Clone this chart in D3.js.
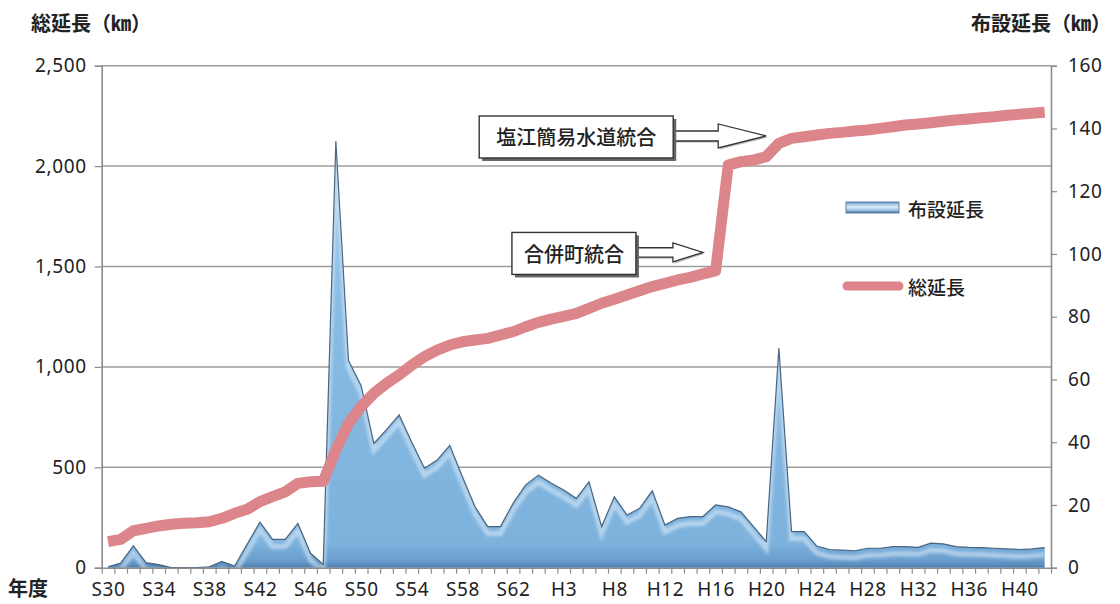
<!DOCTYPE html>
<html>
<head>
<meta charset="utf-8">
<script src="https://cdn.jsdelivr.net/npm/d3@7"></script>
<style>
    body { margin: 0; background: #fff; }
    svg text { font-family: "Noto Sans CJK JP", "Noto Sans", sans-serif; fill: #222; }
</style>
</head>
<body>
<div id="chart"></div>
<script>
// fiscal years, S30 (1955) onward
const years = [1955, 1956, 1957, 1958, 1959, 1960, 1961, 1962, 1963, 1964,
    1965, 1966, 1967, 1968, 1969, 1970, 1971, 1972, 1973, 1974,
    1975, 1976, 1977, 1978, 1979, 1980, 1981, 1982, 1983, 1984,
    1985, 1986, 1987, 1988, 1989, 1990, 1991, 1992, 1993, 1994,
    1995, 1996, 1997, 1998, 1999, 2000, 2001, 2002, 2003, 2004,
    2005, 2006, 2007, 2008, 2009, 2010, 2011, 2012, 2013, 2014,
    2015, 2016, 2017, 2018, 2019, 2020, 2021, 2022, 2023, 2024,
    2025, 2026, 2027, 2028, 2029];

// one label every 4 years, as printed on the original
const tickLabels = ["S30", "S34", "S38", "S42", "S46", "S50", "S54", "S58", "S62", "H3",
    "H8", "H12", "H16", "H20", "H24", "H28", "H32", "H36", "H40"];

// 布設延長 (km, right axis)
const laidLength = [0.3, 1.5, 7, 1.6, 1, 0, 0, 0, 0.3, 2,
    0.5, 7.5, 14.5, 9, 9, 14.1, 4.6, 1, 136, 66,
    58, 39.6, 44, 48.7, 40, 31.7, 34.3, 39, 29, 19.4,
    13.1, 13.1, 20.5, 26.4, 29.5, 27, 24.8, 22.1, 27.4, 13.1,
    22.6, 16.8, 18.9, 24.5, 13.6, 15.7, 16.3, 16.3, 20, 19.4,
    17.8, 13.1, 8.3, 70, 11.5, 11.5, 6.9, 5.8, 5.6, 5.4,
    6.2, 6.2, 6.7, 6.7, 6.5, 7.8, 7.6, 6.7, 6.5, 6.4,
    6.2, 6.0, 5.8, 6.0, 6.4];

// 総延長 (km, left axis)
const totalLength = [130, 141, 184, 196, 208, 216, 221, 224, 229, 246,
    271, 291, 329, 354, 378, 420, 428, 430, 586, 719,
    802, 868, 918, 960, 1009, 1051, 1084, 1109, 1125, 1134,
    1142, 1159, 1175, 1200, 1222, 1238, 1252, 1267, 1292, 1317,
    1337, 1358, 1379, 1400, 1416, 1433, 1446, 1463, 1478, 2005,
    2022, 2030, 2047, 2113, 2138, 2146, 2155, 2163, 2168, 2175,
    2180, 2188, 2196, 2205, 2210, 2216, 2223, 2230, 2235, 2241,
    2246, 2253, 2258, 2263, 2268];

const leftTicks = [0, 500, 1000, 1500, 2000, 2500];
const rightTicks = [0, 20, 40, 60, 80, 100, 120, 140, 160];

// callouts: which year they point at and the level (left axis) of the arrow
const notes = [
    { label: "塩江簡易水道統合", at: 52, value: 2150 },
    { label: "合併町統合", at: 47, value: 1570 }
];

{
    const W = 1120, H = 604;
    const plot = { left: 101.7, right: 1051, top: 65.7, bottom: 567.7 };

    const svg = d3.select("#chart").append("svg")
        .attr("width", W).attr("height", H);

    const xb = d3.scaleLinear().domain([0, years.length]).range([plot.left, plot.right]);
    const xc = i => xb(i + 0.5);
    const yL = d3.scaleLinear().domain([0, 2500]).range([plot.bottom, plot.top]);
    const yR = d3.scaleLinear().domain([0, 160]).range([plot.bottom, plot.top]);

    const defs = svg.append("defs");
    const grad = defs.append("linearGradient").attr("id", "areaFill")
        .attr("gradientUnits", "userSpaceOnUse")
        .attr("x1", 0).attr("x2", 0).attr("y1", plot.top).attr("y2", plot.bottom);
    [[0, "#a7d0f0"], [0.5, "#88bbe3"], [0.95, "#7db2dd"], [0.985, "#6a9fcf"], [1, "#4c7fb0"]]
        .forEach(s => grad.append("stop").attr("offset", s[0]).attr("stop-color", s[1]));

    const legGrad = defs.append("linearGradient").attr("id", "legFill")
        .attr("x1", 0).attr("x2", 0).attr("y1", 0).attr("y2", 1);
    [[0, "#6d9fcc"], [0.45, "#dcecf8"], [0.7, "#a9cbe8"], [1, "#4a7cab"]]
        .forEach(s => legGrad.append("stop").attr("offset", s[0]).attr("stop-color", s[1]));

    defs.append("filter").attr("id", "soft")
        .append("feGaussianBlur").attr("stdDeviation", 1.6);

    const areaGen = d3.area()
        .x((d, i) => xc(i))
        .y0(plot.bottom)
        .y1(d => yR(d));

    defs.append("clipPath").attr("id", "areaClip")
        .append("path").attr("d", areaGen(laidLength));

    // gridlines
    svg.append("g").selectAll("line")
        .data(leftTicks.filter(v => v > 0))
        .join("line")
        .attr("x1", plot.left).attr("x2", plot.right)
        .attr("y1", d => yL(d)).attr("y2", d => yL(d))
        .attr("stroke", "#9d9d9d").attr("stroke-width", 1.5);

    // 布設延長 area
    svg.append("path")
        .attr("d", areaGen(laidLength))
        .attr("fill", "url(#areaFill)");

    // soft highlight under the ridge line
    svg.append("path")
        .attr("clip-path", "url(#areaClip)")
        .attr("d", d3.line().x((d, i) => xc(i)).y(d => yR(d) + 7)(laidLength))
        .attr("fill", "none")
        .attr("stroke", "#e4f1fb").attr("stroke-opacity", 0.55)
        .attr("stroke-width", 5)
        .attr("filter", "url(#soft)");

    svg.append("path")
        .attr("d", d3.line().x((d, i) => xc(i)).y(d => yR(d))(laidLength))
        .attr("fill", "none")
        .attr("stroke", "#34506c").attr("stroke-width", 1.2)
        .attr("stroke-opacity", 0.85);

    // 総延長 line
    svg.append("path")
        .attr("d", d3.line().x((d, i) => xc(i)).y(d => yL(d))(totalLength))
        .attr("fill", "none")
        .attr("stroke", "#dc858b")
        .attr("stroke-width", 11)
        .attr("stroke-linejoin", "round");

    // axes
    const leftAxis = svg.append("g")
        .attr("transform", `translate(${plot.left},0)`)
        .call(d3.axisLeft(yL).tickValues(leftTicks).tickSize(7).tickPadding(8)
            .tickFormat(d3.format(",")));

    const rightAxis = svg.append("g")
        .attr("transform", `translate(${plot.right},0)`)
        .call(d3.axisRight(yR).tickValues(rightTicks).tickSize(6).tickPadding(11));

    const tickMarks = svg.append("g")
        .attr("transform", `translate(0,${plot.bottom})`)
        .call(d3.axisBottom(xb).tickValues(d3.range(0, years.length + 1)).tickSize(6)
            .tickSizeOuter(0).tickFormat(""));

    const labelAxis = svg.append("g")
        .attr("transform", `translate(0,${plot.bottom})`)
        .call(d3.axisBottom(xb)
            .tickValues(tickLabels.map((d, k) => k * 4 + 0.5))
            .tickSize(0).tickPadding(15)
            .tickFormat((d, k) => tickLabels[k]));
    labelAxis.select(".domain").remove();

    [leftAxis, rightAxis, tickMarks].forEach(g => {
        g.select(".domain").attr("stroke", "#8c8c8c").attr("stroke-width", 1.6);
        g.selectAll(".tick line").attr("stroke", "#8c8c8c").attr("stroke-width", 1.2);
    });
    [leftAxis, rightAxis, labelAxis].forEach(g => {
        g.selectAll("text")
            .style("font-family", '"Noto Sans", sans-serif')
            .style("font-size", "19px")
            .style("letter-spacing", "0.6px")
            .attr("fill", "#222");
    });

    // axis titles
    svg.append("text").attr("x", 31).attr("y", 31)
        .style("font-size", "20px").style("font-weight", 700)
        .text("総延長（㎞）");
    svg.append("text").attr("x", 1111).attr("y", 31)
        .attr("text-anchor", "end")
        .style("font-size", "20px").style("font-weight", 700)
        .text("布設延長（㎞）");
    svg.append("text").attr("x", 8).attr("y", 596)
        .style("font-size", "20px").style("font-weight", 700)
        .text("年度");

    // callouts
    const arrowCfg = [
        { len: 93, head: 48, hh: 12, sh: 5, padX: 17, boxH: 42 },
        { len: 67, head: 30, hh: 9.5, sh: 4.7, padX: 12, boxH: 42 }
    ];
    notes.forEach((n, k) => {
        const c = arrowCfg[k];
        const tx = xc(n.at), cy = yL(n.value);
        const bx = tx - c.len;
        const g = svg.append("g");
        const txt = g.append("text")
            .attr("text-anchor", "middle")
            .attr("dominant-baseline", "central")
            .style("font-size", "20px").style("font-weight", 500)
            .text(n.label);
        const tw = txt.node().getComputedTextLength();
        const bw = tw + c.padX * 2;
        const by = cy - c.boxH / 2 + 1;
        txt.attr("x", bx - bw / 2).attr("y", cy + 1);

        const hx = tx - c.head;
        const pts = [[bx, cy - c.sh], [hx, cy - c.sh], [hx, cy - c.hh], [tx, cy],
            [hx, cy + c.hh], [hx, cy + c.sh], [bx, cy + c.sh]];
        g.insert("polygon", "text")
            .attr("points", pts.map(p => [p[0] + 1.5, p[1] + 1.5].join(",")).join(" "))
            .attr("fill", "#bbb");
        g.insert("polygon", "text")
            .attr("points", pts.map(p => p.join(",")).join(" "))
            .attr("fill", "#fff").attr("stroke", "#333").attr("stroke-width", 1.3);
        g.insert("rect", "text")
            .attr("x", bx - bw + 3).attr("y", by + 3)
            .attr("width", bw).attr("height", c.boxH)
            .attr("fill", "#666");
        g.insert("rect", "text")
            .attr("x", bx - bw).attr("y", by)
            .attr("width", bw).attr("height", c.boxH)
            .attr("fill", "#fff").attr("stroke", "#333").attr("stroke-width", 1.4);
    });

    // legend
    const legend = svg.append("g");
    legend.append("rect")
        .attr("x", 846).attr("y", 202).attr("width", 53).attr("height", 11)
        .attr("fill", "url(#legFill)").attr("stroke", "#45698c").attr("stroke-width", 0.8);
    legend.append("text").attr("x", 908).attr("y", 208)
        .attr("dominant-baseline", "central")
        .style("font-size", "19px").style("font-weight", 500)
        .text("布設延長");
    legend.append("line")
        .attr("x1", 847).attr("x2", 899).attr("y1", 286).attr("y2", 286)
        .attr("stroke", "#dc858b").attr("stroke-width", 9).attr("stroke-linecap", "round");
    legend.append("text").attr("x", 908).attr("y", 286)
        .attr("dominant-baseline", "central")
        .style("font-size", "19px").style("font-weight", 500)
        .text("総延長");
}
</script>
</body>
</html>
